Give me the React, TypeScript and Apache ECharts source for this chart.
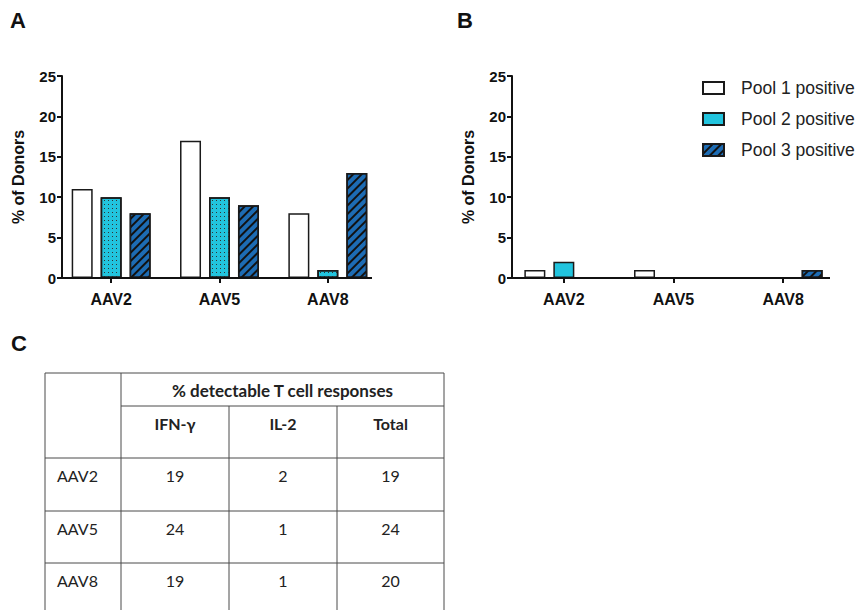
import React, { useEffect, useRef } from 'react';
import * as echarts from 'echarts';

const categories = ['AAV2', 'AAV5', 'AAV8'];
const poolNames = ['Pool 1 positive', 'Pool 2 positive', 'Pool 3 positive'];
const panelAPool1 = [11, 17, 8];
const panelAPool2 = [10, 10, 1];
const panelAPool3 = [8, 9, 13];
const panelBPool1 = [1, 1, 0];
const panelBPool2 = [2, 0, 0];
const panelBPool3 = [0, 0, 1];
const yMin = 0;
const yMax = 25;
const yInterval = 5;
const yAxisTitle = '% of Donors';
const panelLetters = ['A', 'B', 'C'];

const tableHeader = '% detectable T cell responses';
const tableColumns = ['IFN-γ', 'IL-2', 'Total'];
const tableRows = ['AAV2', 'AAV5', 'AAV8'];
const ifnValues = [19, 24, 19];
const il2Values = [2, 1, 1];
const totalValues = [19, 24, 20];

const FONT = "'Liberation Sans', Arial, sans-serif";
const TFONT = "Lato, 'Open Sans', sans-serif";
const CYAN = '#22c4de';
const BLUE = '#1d6cb4';
const EDGE = '#1a1a1a';

const hatch = {
  symbol: 'rect',
  symbolSize: 1,
  dashArrayX: [1, 0],
  dashArrayY: [1.6, 3.4],
  rotation: -Math.PI / 4,
  color: '#111',
};
const dots = {
  symbol: 'rect',
  symbolSize: 1,
  dashArrayX: [1, 3],
  dashArrayY: [1, 3],
  color: '#333',
};

function barSeries(name: string, data: number[], idx: number, color: string, decal?: any) {
  return {
    type: 'bar',
    name,
    data,
    xAxisIndex: idx,
    yAxisIndex: idx,
    barWidth: 21,
    barGap: '38%',
    itemStyle: { color, borderColor: EDGE, borderWidth: 1.5, decal },
    emphasis: { disabled: true },
  };
}

function makeYAxis(gridIndex: number, offset: number) {
  return {
    type: 'value',
    gridIndex,
    min: yMin,
    max: yMax,
    interval: yInterval,
    offset,
    name: yAxisTitle,
    nameLocation: 'middle',
    nameGap: 36,
    nameTextStyle: { fontFamily: FONT, fontWeight: 'bold', fontSize: 16, color: '#111' },
    axisLine: { show: true, lineStyle: { color: '#111', width: 2 } },
    axisTick: { show: true, length: 5, lineStyle: { color: '#111', width: 2 } },
    axisLabel: { fontFamily: FONT, fontWeight: 'bold', fontSize: 15, color: '#111', margin: 6 },
    splitLine: { show: false },
  };
}

function makeXAxis(gridIndex: number) {
  return {
    type: 'category',
    gridIndex,
    data: categories,
    axisLine: { show: false },
    axisTick: { show: true, alignWithLabel: true, length: 5, lineStyle: { color: '#111', width: 2 } },
    axisLabel: { fontFamily: FONT, fontWeight: 'bold', fontSize: 16, color: '#111', margin: 13 },
  };
}

function buildTable() {
  const colX = [45, 121, 229, 337, 444];
  const rowY = [373, 406, 458, 511, 563, 616];
  const line = (x1: number, y1: number, x2: number, y2: number) => ({
    type: 'line',
    shape: { x1, y1, x2, y2 },
    style: { stroke: '#4a4a4a', lineWidth: 1 },
  });
  const els: any[] = [];
  els.push(line(colX[0], rowY[0], colX[4], rowY[0]));
  els.push(line(colX[1], rowY[1], colX[4], rowY[1]));
  for (let r = 2; r < rowY.length; r++) els.push(line(colX[0], rowY[r], colX[4], rowY[r]));
  els.push(line(colX[0], rowY[0], colX[0], rowY[5]));
  els.push(line(colX[1], rowY[0], colX[1], rowY[5]));
  els.push(line(colX[2], rowY[1], colX[2], rowY[5]));
  els.push(line(colX[3], rowY[1], colX[3], rowY[5]));
  els.push(line(colX[4], rowY[0], colX[4], rowY[5]));
  const txt = (text: string, x: number, y: number, bold: boolean, size: number, align = 'center') => ({
    type: 'text',
    x,
    y,
    style: {
      text,
      fontFamily: TFONT,
      fontSize: size,
      fontWeight: bold ? 'bold' : 'normal',
      fill: '#222',
      align,
      verticalAlign: 'middle',
    },
  });
  els.push(txt(tableHeader, (colX[1] + colX[4]) / 2, 390, true, 17));
  tableColumns.forEach((c, i) => els.push(txt(c, (colX[i + 1] + colX[i + 2]) / 2, 423, true, 16)));
  const cols = [ifnValues, il2Values, totalValues];
  tableRows.forEach((r, ri) => {
    const y = rowY[ri + 2] + 17;
    els.push(txt(r, 57, y, false, 16, 'left'));
    cols.forEach((vals, ci) => els.push(txt(String(vals[ri]), (colX[ci + 1] + colX[ci + 2]) / 2, y, false, 16)));
  });
  return els;
}

function buildGraphic() {
  const letterPos = [
    [10, 20],
    [457, 20],
    [11, 343],
  ];
  const letters = panelLetters.map((l, i) => ({
    type: 'text',
    x: letterPos[i][0],
    y: letterPos[i][1],
    style: { text: l, fontFamily: FONT, fontWeight: 'bold', fontSize: 22, fill: '#111', verticalAlign: 'middle' },
  }));
  const xLines = [
    [62, 372],
    [512, 830],
  ].map(([a, b]) => ({
    type: 'line',
    z: 100,
    shape: { x1: a, y1: 278, x2: b, y2: 278 },
    style: { stroke: '#111', lineWidth: 2 },
  }));
  return [...letters, ...xLines, ...buildTable()];
}

export default function App() {
  const ref = useRef<HTMLDivElement>(null);
  useEffect(() => {
    const chart = echarts.init(ref.current!, null, { renderer: 'svg' });
    const option: any = {
      animation: false,
      backgroundColor: '#fff',
      grid: [
        { left: 57, top: 76, width: 325, height: 202 },
        { left: 509, top: 76, width: 329, height: 202 },
      ],
      xAxis: [makeXAxis(0), makeXAxis(1)],
      yAxis: [makeYAxis(0, -5), makeYAxis(1, -3)],
      legend: {
        data: poolNames,
        orient: 'vertical',
        left: 697,
        top: 74,
        itemWidth: 21,
        itemHeight: 12,
        itemGap: 13,
        icon: 'rect',
        selectedMode: false,
        textStyle: { fontFamily: FONT, fontSize: 17.5, color: '#222', padding: [0, 0, 0, 12] },
      },
      series: [
        barSeries(poolNames[0], panelBPool1, 1, '#ffffff'),
        barSeries(poolNames[1], panelBPool2, 1, CYAN),
        barSeries(poolNames[2], panelBPool3, 1, BLUE, hatch),
        barSeries(poolNames[0], panelAPool1, 0, '#ffffff'),
        barSeries(poolNames[1], panelAPool2, 0, CYAN, dots),
        barSeries(poolNames[2], panelAPool3, 0, BLUE, hatch),
      ],
      graphic: buildGraphic(),
    };
    chart.setOption(option);
    return () => chart.dispose();
  }, []);
  return (
    <div
      ref={ref}
      style={{ position: 'absolute', left: 0, top: 0, width: 860, height: 610 }}
    />
  );
}
